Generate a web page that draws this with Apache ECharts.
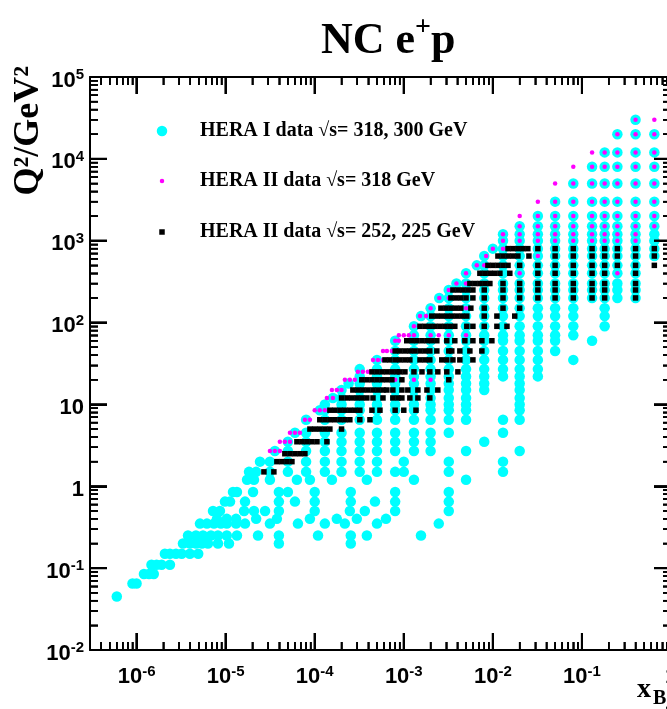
<!DOCTYPE html>
<html><head><meta charset="utf-8">
<script src="https://cdn.jsdelivr.net/npm/echarts@6/dist/echarts.min.js"></script>
<style>html,body{margin:0;padding:0;background:#fff}#c{width:667px;height:709px}</style>
</head><body><div id="c"></div>
<script>
// ---------- data: [Q2, [x values]] per row ----------
const heraIRows = [
 [30000,[0.4]],
 [20000,[0.25,0.4,0.65]],
 [12000,[0.18,0.25,0.4,0.65]],
 [8000,[0.13,0.18,0.25,0.4,0.65]],
 [5000,[0.08,0.13,0.18,0.25,0.4,0.65]],
 [3000,[0.05,0.08,0.13,0.18,0.25,0.4,0.65]],
 [2000,[0.032,0.05,0.08,0.13,0.18,0.25,0.4,0.65]],
 [1500,[0.02,0.032,0.05,0.08,0.13,0.18,0.25,0.4,0.65]],
 [1200,[0.013,0.02,0.032,0.05,0.08,0.13,0.18,0.25,0.4,0.65]],
 [1000,[0.013,0.02,0.032,0.05,0.08,0.13,0.18,0.25,0.4,0.65]],
 [800,[0.010,0.013,0.02,0.032,0.05,0.08,0.13,0.18,0.25,0.4,0.65]],
 [650,[0.008,0.013,0.02,0.032,0.05,0.08,0.13,0.18,0.25,0.4,0.65]],
 [500,[0.0066,0.008,0.013,0.02,0.032,0.05,0.08,0.13,0.18,0.25,0.4]],
 [400,[0.005,0.008,0.013,0.02,0.032,0.05,0.08,0.13,0.18,0.25,0.4]],
 [300,[0.0039,0.005,0.008,0.013,0.02,0.032,0.05,0.08,0.13,0.18,0.25,0.4]],
 [250,[0.0032,0.005,0.008,0.013,0.02,0.032,0.05,0.08,0.13,0.18,0.25,0.4]],
 [200,[0.0025,0.0032,0.005,0.008,0.013,0.02,0.032,0.05,0.08,0.13,0.18,0.25,0.4]],
 [150,[0.002,0.0032,0.005,0.008,0.013,0.02,0.032,0.05,0.08,0.18]],
 [120,[0.00156,0.002,0.0032,0.005,0.008,0.013,0.02,0.032,0.05,0.08,0.18]],
 [90,[0.0013,0.002,0.0032,0.005,0.008,0.013,0.02,0.032,0.05,0.08,0.18]],
 [70,[0.0013,0.002,0.0032,0.005,0.008,0.013,0.02,0.032,0.05,0.08]],
 [60,[0.0008,0.0013,0.002,0.0032,0.005,0.008,0.013,0.02,0.032,0.05,0.13]],
 [45,[0.0008,0.0013,0.002,0.0032,0.005,0.008,0.013,0.02,0.032,0.05]],
 [35,[0.0005,0.0008,0.0013,0.002,0.0032,0.005,0.008,0.013,0.02,0.032,0.08]],
 [27,[0.00032,0.0005,0.0008,0.0013,0.002,0.0032,0.005,0.008,0.013,0.02,0.032]],
 [22,[0.00032,0.0005,0.0008,0.0013,0.002,0.0032,0.005,0.008,0.013,0.02,0.032]],
 [18,[0.00024,0.00032,0.0005,0.0008,0.0013,0.002,0.0032,0.005,0.008,0.02]],
 [15,[0.0002,0.00032,0.0005,0.0008,0.0013,0.002,0.0032,0.005,0.008,0.02]],
 [12,[0.00016,0.0002,0.00032,0.0005,0.0008,0.0013,0.002,0.0032,0.005,0.02]],
 [10,[0.00013,0.0002,0.00032,0.0005,0.0008,0.0013,0.002,0.0032,0.005,0.02]],
 [8.5,[0.000114,0.00013,0.0002,0.00032,0.0005,0.0008,0.0013,0.002,0.0032,0.005,0.02]],
 [6.5,[0.00008,0.00013,0.0002,0.00032,0.0005,0.0008,0.0013,0.002,0.0032,0.005,0.013,0.02]],
 [4.5,[0.00006,0.00008,0.00013,0.0002,0.00032,0.0005,0.0008,0.0013,0.002,0.0032,0.013]],
 [3.5,[0.00005,0.00008,0.00013,0.0002,0.00032,0.0005,0.0008,0.0013,0.002,0.008]],
 [2.7,[0.0000357,0.00005,0.00008,0.00013,0.0002,0.00032,0.0005,0.0008,0.0013,0.002,0.005,0.02]],
 [2,[0.0000243,0.0000314,0.00005,0.00008,0.00013,0.0002,0.00032,0.0005,0.001,0.0032,0.013]],
 [1.5,[0.0000183,0.000022,0.0000314,0.00005,0.00008,0.00013,0.0002,0.00032,0.0005,0.0008,0.001,0.0032,0.013]],
 [1.2,[0.0000174,0.0000208,0.0000314,0.0000631,0.0000883,0.000156,0.000385,0.0013,0.005]],
 [0.85,[0.0000121,0.0000134,0.0000203,0.0000396,0.00005,0.0001,0.000254,0.0008,0.0032]],
 [0.65,[0.00000982,0.0000112,0.0000165,0.0000396,0.00006,0.0001,0.000254,0.000475,0.0008,0.0032]],
 [0.5,[0.00000721,0.00000863,0.0000161,0.0000208,0.0000277,0.0000396,0.0001,0.000248,0.000365,0.0008,0.0032]],
 [0.4,[0.00000799,0.0000103,0.0000131,0.000022,0.0000376,0.0000883,0.000177,0.000297,0.000631]],
 [0.35,[0.00000515,0.00000617,0.0000074,0.00000885,0.0000103,0.0000131,0.0000165,0.0000314,0.0000648,0.00013,0.000218,0.0005,0.00247]],
 [0.25,[0.00000378,0.00000464,0.00000557,0.00000684,0.0000082,0.0000103,0.0000134,0.0000231,0.0000396,0.000109,0.000254,0.000385,0.00156]],
 [0.2,[0.00000332,0.00000397,0.00000464,0.00000542,0.00000633,0.0000082,0.0000109,0.0000396,0.000254]],
 [0.15,[0.00000208,0.00000237,0.00000277,0.00000321,0.00000397,0.00000492]],
 [0.11,[0.00000147,0.00000168,0.00000191,0.00000237]],
 [0.085,[0.00000121,0.00000138,0.00000156]],
 [0.065,[0.0000009,0.000001]],
 [0.045,[0.0000006]]
];
const heraII318Rows = [
 [30000,[0.4,0.65]],
 [20000,[0.25,0.4,0.65]],
 [12000,[0.13,0.18,0.25,0.4,0.65]],
 [8000,[0.08,0.13,0.18,0.25,0.4,0.65]],
 [5000,[0.05,0.08,0.13,0.18,0.25,0.4,0.65]],
 [3000,[0.032,0.05,0.08,0.13,0.18,0.25,0.4,0.65]],
 [2000,[0.02,0.032,0.05,0.08,0.13,0.18,0.25,0.4,0.65]],
 [1500,[0.02,0.032,0.05,0.08,0.13,0.18,0.25,0.4,0.65]],
 [1200,[0.013,0.02,0.032,0.05,0.08,0.13,0.18,0.25,0.4]],
 [1000,[0.013,0.02,0.032,0.05,0.08,0.13,0.18,0.25,0.4]],
 [800,[0.010,0.013]],
 [650,[0.0084,0.032]],
 [500,[0.0066,0.008]],
 [400,[0.005,0.02,0.25]],
 [300,[0.0039,0.005]],
 [250,[0.0032]],
 [200,[0.0025,0.0032]],
 [150,[0.002,0.005]],
 [120,[0.00152,0.00178]],
 [90,[0.0013,0.00148]],
 [70,[0.00088,0.001,0.00114,0.0013,0.002,0.00247,0.0032,0.005]],
 [60,[0.0008,0.00088]],
 [45,[0.000584,0.000646,0.000735]],
 [35,[0.000451,0.000513,0.000584]],
 [25,[0.000305,0.000347,0.000395]],
 [20,[0.000218,0.000248,0.000282,0.000584,0.0008,0.0013,0.002]],
 [15,[0.000156,0.000177,0.0002]],
 [12,[0.000137,0.00016]],
 [8.5,[0.0001,0.000114,0.00013]],
 [6.5,[0.0000776,0.0000883]],
 [4.5,[0.0000527,0.00006,0.0000682]],
 [3.5,[0.0000406,0.0000462,0.0000527]],
 [2.7,[0.0000314,0.0000357,0.0000406]]
];
const heraIILowRows = [
 [800,[0.0148,0.0168,0.0191,0.0217,0.0247,0.032,0.05,0.08,0.13,0.18,0.25,0.4,0.65]],
 [650,[0.0114,0.013,0.0148,0.0168,0.0191,0.0254,0.05,0.08,0.13,0.18,0.25,0.4,0.65]],
 [500,[0.0088,0.010,0.0114,0.013,0.0148,0.02,0.032,0.05,0.08,0.13,0.18,0.25,0.4,0.65]],
 [400,[0.00715,0.00814,0.00926,0.0105,0.012,0.0155,0.032,0.05,0.08,0.13,0.18,0.4]],
 [300,[0.00552,0.00628,0.00715,0.00814,0.00926,0.013,0.02,0.032,0.05,0.08,0.13,0.18,0.4]],
 [250,[0.00356,0.00405,0.0046,0.00524,0.00597,0.008,0.013,0.02,0.032,0.05,0.08,0.13,0.18,0.4]],
 [200,[0.00338,0.00384,0.00437,0.005,0.00597,0.008,0.013,0.02,0.032,0.05,0.08,0.13,0.18,0.4]],
 [150,[0.00261,0.00297,0.00338,0.00384,0.00437,0.00566,0.008,0.013,0.02]],
 [120,[0.00206,0.00235,0.00267,0.00304,0.00346,0.00394,0.00449,0.0051,0.008,0.0111,0.0176]],
 [90,[0.00152,0.00173,0.00196,0.00223,0.00254,0.00289,0.00329,0.00374,0.0051,0.00597,0.008,0.0111,0.0144]],
 [60,[0.00108,0.00123,0.0014,0.0016,0.00182,0.00206,0.00235,0.00304,0.00374,0.00485,0.00597,0.00753,0.00975]],
 [45,[0.0008,0.000904,0.00103,0.00117,0.00133,0.00152,0.00173,0.00196,0.00235,0.0032,0.00346,0.00426,0.00552,0.00753]],
 [35,[0.000615,0.000698,0.0008,0.000904,0.00103,0.00117,0.00152,0.00173,0.00196,0.00267,0.00304,0.00356,0.00426,0.00597]],
 [25,[0.000439,0.0005,0.000569,0.000646,0.000735,0.000836,0.000904,0.00103,0.0013,0.0016,0.00196,0.00241,0.00304,0.00405]],
 [20,[0.000338,0.000385,0.000439,0.0005,0.000569,0.000646,0.000735,0.000952,0.0032]],
 [15,[0.000268,0.000305,0.000347,0.000395,0.000451,0.000513,0.000584,0.000646,0.000754,0.000952,0.00111,0.00144,0.00182,0.00241]],
 [12,[0.0002,0.00023,0.000261,0.000297,0.000338,0.000385,0.000451,0.000584,0.000754,0.00086,0.000952,0.00117,0.00144,0.00196]],
 [8.5,[0.000148,0.000168,0.000192,0.000218,0.000248,0.000282,0.000321,0.000439,0.00054,0.0008,0.001,0.00137]],
 [6.5,[0.000114,0.00013,0.000148,0.000168,0.000192,0.000218,0.000248,0.000321,0.000417]],
 [5,[0.0000883,0.0001,0.000114,0.00013,0.000148,0.0002]],
 [3.5,[0.0000631,0.0000718,0.0000816,0.0000929,0.000106,0.000137]],
 [2.5,[0.0000462,0.0000527,0.00006,0.0000682,0.0000776]],
 [2,[0.0000376,0.0000428,0.0000487,0.0000555]],
 [1.5,[0.0000269,0.0000348]]
];
const seriesNames = ['HERA I data \u221As= 318, 300 GeV','HERA II data \u221As= 318 GeV','HERA II data \u221As= 252, 225 GeV'];
const xTickValues = [1e-6,1e-5,1e-4,1e-3,1e-2,1e-1,1];
const xTickLabels = ['{b|10}{s|-6}','{b|10}{s|-5}','{b|10}{s|-4}','{b|10}{s|-3}','{b|10}{s|-2}','{b|10}{s|-1}','{b|1}'];
const yTickValues = [1e-2,1e-1,1,10,1e2,1e3,1e4,1e5];
const yTickLabels = ['{b|10}{s|-2}','{b|10}{s|-1}','{b|1}','{b|10}','{b|10}{s|2}','{b|10}{s|3}','{b|10}{s|4}','{b|10}{s|5}'];
const minorMultipliers = [2,3,4,5,6,7,8,9];

// ---------- build ----------
const X_MIN=3e-7, X_MAX=1, Y_MIN=1e-2, Y_MAX=1e5;
function flatten(rows){const out=[];rows.forEach(function(r){r[1].forEach(function(x){out.push([x,r[0]]);});});return out;}
function labelFor(values,labels){
  return function(v){
    for(let i=0;i<values.length;i++){ if(Math.abs(Math.log10(v)-Math.log10(values[i]))<1e-6) return labels[i]; }
    return '';
  };
}
function minorTicks(decades,lo,hi){
  const out=[];
  decades.forEach(function(d){minorMultipliers.forEach(function(m){const v=d*m; if(v>lo*1.0001&&v<hi*0.9999) out.push(v);});});
  return out;
}
// tick items: [x, y, kind]  kind 0 = x major, 1 = x minor, 2 = y major, 3 = y minor
const tickItems=[];
xTickValues.forEach(function(v){ if(v<X_MAX*0.999) tickItems.push([v,1,0]); });
minorTicks([1e-7].concat(xTickValues),X_MIN,X_MAX).forEach(function(v){ tickItems.push([v,1,1]); });
yTickValues.forEach(function(v){ if(v>Y_MIN*1.001&&v<Y_MAX*0.999) tickItems.push([1e-3,v,2]); });
minorTicks(yTickValues,Y_MIN,Y_MAX).forEach(function(v){ tickItems.push([1e-3,v,3]); });
const MAJ=17, MINL=8;
function renderTick(params,api){
  const cs=params.coordSys;
  const kind=api.value(2);
  const p=api.coord([api.value(0),api.value(1)]);
  const len=(kind===0||kind===2)?MAJ:MINL;
  const w=(kind===0||kind===2)?2:1.5;
  const st={stroke:'#000',lineWidth:w};
  if(kind<2){
    const x=p[0], yb=cs.y+cs.height, yt=cs.y;
    return {type:'group',children:[
      {type:'line',shape:{x1:x,y1:yb,x2:x,y2:yb-len},style:st},
      {type:'line',shape:{x1:x,y1:yt,x2:x,y2:yt+len},style:st}]};
  }
  const y=p[1], xl=cs.x, xr=cs.x+cs.width;
  return {type:'group',children:[
    {type:'line',shape:{x1:xl,y1:y,x2:xl+len,y2:y},style:st},
    {type:'line',shape:{x1:xr,y1:y,x2:xr-len,y2:y},style:st}]};
}

const LF='"Liberation Sans",Arial,sans-serif';
const SERIF='"Liberation Serif","Times New Roman",serif';
const rich={
  b:{fontFamily:LF,fontWeight:'bold',fontSize:22,color:'#000',lineHeight:24,verticalAlign:'bottom'},
  s:{fontFamily:LF,fontWeight:'bold',fontSize:15,color:'#000',lineHeight:10,verticalAlign:'top'}
};
function axisBase(){
  return {
    type:'log',logBase:10,
    axisLine:{show:true,onZero:false,lineStyle:{color:'#000',width:2}},
    axisTick:{show:true,inside:true,length:17,lineStyle:{color:'#000',width:2}},
    minorTick:{show:true,splitNumber:9,length:8,lineStyle:{color:'#000',width:1.5}},
    splitLine:{show:false},minorSplitLine:{show:false}
  };
}
const chart=echarts.init(document.getElementById('c'),null,{renderer:'canvas'});
const legendFont={fontFamily:SERIF,fontWeight:'bold',fontSize:20,fill:'#000',align:'left',verticalAlign:'middle'};
const baseGraphic=[
    {type:'text',x:29,y:66,rotation:Math.PI/2,silent:true,
      style:{text:'Q\u00B2/GeV\u00B2',fontFamily:SERIF,fontWeight:'bold',fontSize:36,fill:'#000',align:'right',verticalAlign:'middle'}},
    {type:'text',x:637,y:690,silent:true,style:{text:'x',fontFamily:SERIF,fontWeight:'bold',fontSize:28,fill:'#000',align:'left',verticalAlign:'middle'}},
    {type:'text',x:653,y:699,silent:true,style:{text:'Bj',fontFamily:SERIF,fontWeight:'bold',fontSize:20,fill:'#000',align:'left',verticalAlign:'middle'}},
    {type:'circle',silent:true,shape:{cx:162,cy:131,r:5.25},style:{fill:'#00ffff'}},
    {type:'text',x:200,y:131,silent:true,style:Object.assign({text:seriesNames[0]},legendFont)},
    {type:'circle',silent:true,shape:{cx:162,cy:181,r:2.25},style:{fill:'#ff00ff'}},
    {type:'text',x:200,y:181,silent:true,style:Object.assign({text:seriesNames[1]},legendFont)},
    {type:'rect',silent:true,shape:{x:159.25,y:229.25,width:5.5,height:5.5},style:{fill:'#000'}},
    {type:'text',x:200,y:232,silent:true,style:Object.assign({text:seriesNames[2]},legendFont)}
];
const option={
  animation:false,
  backgroundColor:'#fff',
  title:{text:'{m|NC e}{s|+}{m|p}',left:321,top:14,padding:0,
    textStyle:{rich:{
      m:{fontFamily:SERIF,fontWeight:'bold',fontSize:44,color:'#000',lineHeight:50,verticalAlign:'bottom'},
      s:{fontFamily:SERIF,fontWeight:'bold',fontSize:28,color:'#000',lineHeight:26,verticalAlign:'top'}}}},
  grid:{left:90,top:77,width:581,height:573,containLabel:false,outerBoundsMode:'none'},
  xAxis:[
    Object.assign(axisBase(),{position:'bottom',min:X_MIN,max:X_MAX,
      axisLabel:{show:true,margin:14,formatter:labelFor(xTickValues,xTickLabels),rich:rich,showMinLabel:true,showMaxLabel:true,hideOverlap:false}}),
    Object.assign(axisBase(),{position:'top',min:X_MIN,max:X_MAX,axisLabel:{show:false}})
  ],
  yAxis:[
    Object.assign(axisBase(),{position:'left',min:Y_MIN,max:Y_MAX,
      axisLabel:{show:true,margin:6,padding:[5,0,0,0],formatter:labelFor(yTickValues,yTickLabels),rich:rich}}),
    Object.assign(axisBase(),{position:'right',min:Y_MIN,max:Y_MAX,axisLabel:{show:false}})
  ],
  graphic:baseGraphic,
  series:[
    {type:'scatter',name:seriesNames[0],data:flatten(heraIRows),symbol:'circle',symbolSize:10.5,itemStyle:{color:'#00ffff',opacity:1},z:2,silent:true,progressive:0},
    {type:'scatter',name:seriesNames[1],data:flatten(heraII318Rows),symbol:'circle',symbolSize:4.5,itemStyle:{color:'#ff00ff',opacity:1},z:3,silent:true,progressive:0},
    {type:'scatter',name:seriesNames[2],data:flatten(heraIILowRows),symbol:'rect',symbolSize:5.5,itemStyle:{color:'#000000',opacity:1},z:4,silent:true,progressive:0},
    {type:'custom',name:'frame ticks',data:tickItems,renderItem:renderTick,clip:false,z:6,silent:true,progressive:0,
      encode:{x:0,y:1}}
  ]
};
chart.setOption(option);
// extra safety: ticks as graphic lines positioned through the chart's own axis conversion
(function(){
  const extra=[];
  function px(v){return chart.convertToPixel({gridIndex:0},v);}
  const pBL=px([X_MIN,Y_MIN]), pTR=px([X_MAX,Y_MAX]);
  if(!pBL||!pTR) return;
  const left=pBL[0], bottom=pBL[1], right=pTR[0], top=pTR[1];
  tickItems.forEach(function(t){
    const p=px([t[0],t[1]]); if(!p) return;
    const major=(t[2]===0||t[2]===2), len=major?MAJ:MINL, w=major?2:1.5;
    const st={stroke:'#000',lineWidth:w};
    if(t[2]<2){
      extra.push({type:'line',silent:true,z:7,shape:{x1:p[0],y1:bottom,x2:p[0],y2:bottom-len},style:st});
      extra.push({type:'line',silent:true,z:7,shape:{x1:p[0],y1:top,x2:p[0],y2:top+len},style:st});
    } else {
      extra.push({type:'line',silent:true,z:7,shape:{x1:left,y1:p[1],x2:left+len,y2:p[1]},style:st});
      extra.push({type:'line',silent:true,z:7,shape:{x1:right,y1:p[1],x2:right-len,y2:p[1]},style:st});
    }
  });
  chart.setOption({graphic:baseGraphic.concat(extra)});
})();
</script></body></html>
